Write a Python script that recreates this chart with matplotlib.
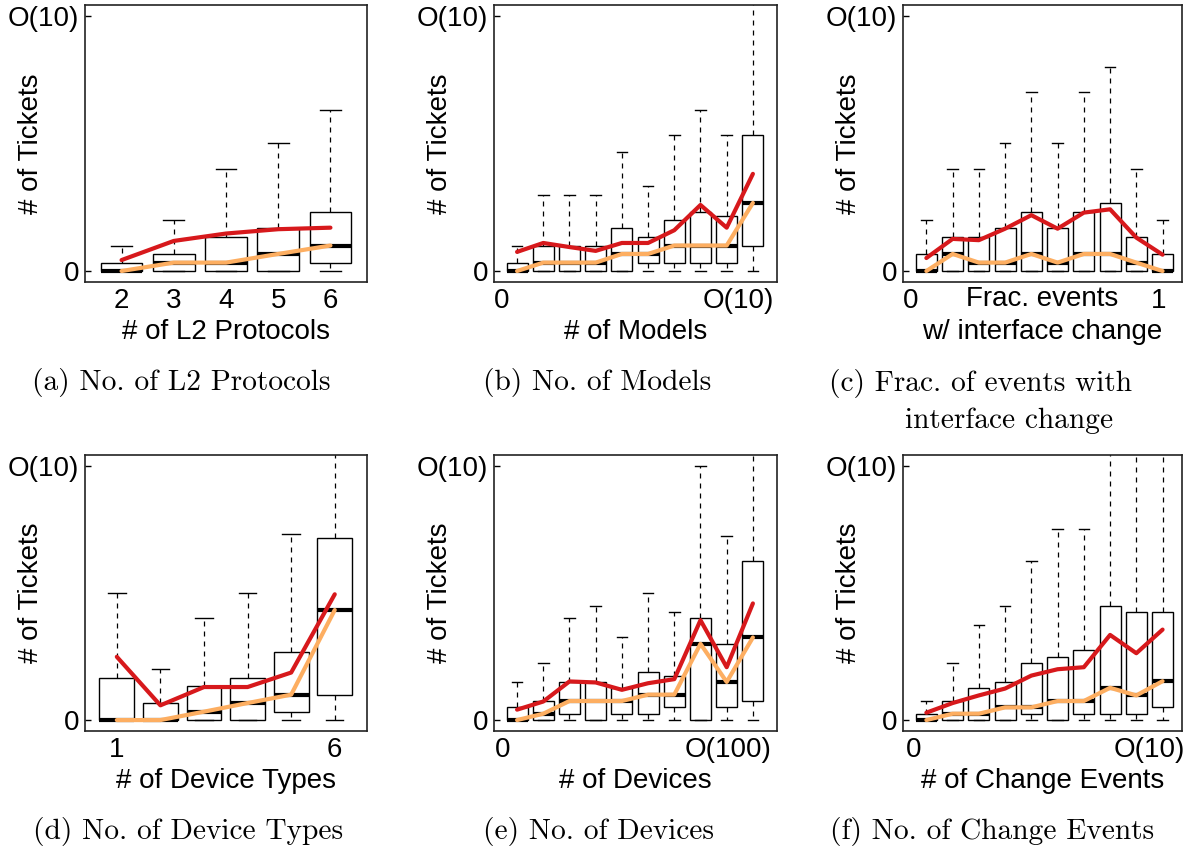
import matplotlib
matplotlib.use("Agg")
import matplotlib.pyplot as plt

# ---- data (y in "ticket" units: 0 .. O(10) -> 0 .. 10) ----
# (a) No. of L2 Protocols
l2_pos = [2, 3, 4, 5, 6]
l2_q1 = [0, 0, 0, 0, 0.33]
l2_med = [0, 0.33, 0.33, 0.67, 1.0]
l2_q3 = [0.33, 0.67, 1.33, 1.67, 2.33]
l2_hi = [1, 2, 4, 5, 6.33]
l2_mean = [0.43, 1.18, 1.47, 1.64, 1.70]

# (b) No. of Models
mod_pos = list(range(1, 11))
mod_q1 = [0, 0, 0, 0, 0, 0.33, 0.33, 0.33, 0.33, 1.0]
mod_med = [0, 0.33, 0.33, 0.33, 0.67, 0.67, 1.0, 1.0, 1.0, 2.67]
mod_q3 = [0.33, 1.0, 1.0, 1.0, 1.67, 1.33, 2.0, 2.33, 2.17, 5.33]
mod_hi = [1, 3, 3, 3, 4.67, 3.33, 5.33, 6.33, 5.33, 12]
mod_mean = [0.75, 1.10, 0.94, 0.79, 1.10, 1.10, 1.60, 2.59, 1.70, 3.81]

# (c) Frac. of events with interface change
frac_pos = list(range(1, 11))
frac_q1 = [0] * 10
frac_med = [0, 0.67, 0.33, 0.33, 0.67, 0.33, 0.67, 0.67, 0.33, 0]
frac_q3 = [0.67, 1.33, 1.33, 1.67, 2.33, 1.67, 2.33, 2.67, 1.33, 0.67]
frac_hi = [2, 4, 4, 5, 7, 5, 7, 8, 4, 2]
frac_mean = [0.51, 1.26, 1.21, 1.66, 2.19, 1.66, 2.29, 2.42, 1.31, 0.64]

# (d) No. of Device Types
dtype_pos = [1, 2, 3, 4, 5, 6]
dtype_q1 = [0, 0, 0, 0, 0.33, 1.0]
dtype_med = [0, 0, 0.33, 0.67, 1.0, 4.33]
dtype_q3 = [1.67, 0.67, 1.33, 1.67, 2.67, 7.17]
dtype_hi = [5, 2, 4, 5, 7.33, 12]
dtype_mean = [2.49, 0.58, 1.30, 1.30, 1.87, 4.95]

# (e) No. of Devices
dev_pos = list(range(1, 11))
dev_q1 = [0, 0, 0.25, 0, 0.25, 0.25, 0.5, 0, 0.5, 0.75]
dev_med = [0, 0.25, 0.75, 0.75, 0.75, 1.0, 1.0, 3.0, 1.5, 3.25]
dev_q3 = [0.5, 0.75, 1.5, 1.5, 1.25, 1.9, 1.75, 4.0, 3.0, 6.25]
dev_hi = [1.5, 2.25, 4.0, 4.5, 3.25, 5.0, 4.25, 10.0, 7.25, 12]
dev_mean = [0.41, 0.73, 1.52, 1.48, 1.19, 1.45, 1.61, 3.93, 2.08, 4.59]

# (f) No. of Change Events
chg_pos = list(range(1, 11))
chg_q1 = [0, 0, 0, 0, 0.25, 0, 0.25, 0.25, 0.25, 0.5]
chg_med = [0, 0.25, 0.25, 0.5, 0.5, 0.75, 0.75, 1.27, 0.97, 1.53]
chg_q3 = [0.25, 0.75, 1.25, 1.5, 2.25, 2.5, 2.75, 4.5, 4.25, 4.25]
chg_hi = [0.75, 2.25, 3.75, 4.5, 6.25, 7.5, 7.5, 12, 12, 12]
chg_mean = [0.29, 0.67, 0.97, 1.24, 1.75, 2.0, 2.08, 3.35, 2.63, 3.56]

y_ticks = [0, 10]
y_ticklabels = ["0", "O(10)"]

RED = "#d7191c"
ORANGE = "#fdae61"
SANS = "Liberation Sans"
SERIF = "cmr10"
FS = 20
CAP_FS = 21.2

W, H = 1188, 851
fig = plt.figure(figsize=(W / 100, H / 100), dpi=100)


def px_axes(left, top, right, bottom):
    return fig.add_axes([left / W, 1 - bottom / H, (right - left) / W, (bottom - top) / H])


def panel(rect, pos, q1, med, q3, hi, mean, xlim, xticks, xticklabels, xlabel):
    ax = px_axes(*rect)
    stats = []
    for i in range(len(pos)):
        stats.append(dict(q1=q1[i], med=med[i], q3=q3[i], whislo=0, whishi=hi[i], fliers=[]))
    ax.bxp(stats, positions=pos, widths=0.8, showfliers=False, patch_artist=True,
           boxprops=dict(facecolor="white", edgecolor="black", linewidth=1.0),
           medianprops=dict(color="black", linewidth=3.0, solid_capstyle="butt"),
           whiskerprops=dict(color="black", linewidth=0.9, linestyle=(0, (4, 4))),
           capprops=dict(color="black", linewidth=1.0))
    ax.plot(pos, med, color=ORANGE, lw=3, solid_capstyle="round", zorder=4)
    ax.plot(pos, mean, color=RED, lw=3, solid_capstyle="round", zorder=5)

    ax.set_xlim(*xlim)
    ax.set_ylim(-0.43, 10.43)
    ax.set_yticks(y_ticks)
    ax.set_yticklabels(y_ticklabels, fontsize=FS, fontfamily=SANS)
    ax.set_xticks(xticks)
    ax.set_xticklabels(xticklabels, fontsize=FS, fontfamily=SANS)
    ax.tick_params(axis="y", direction="in", length=4, width=1, pad=4)
    ax.tick_params(axis="x", length=0, pad=4)
    for s in ax.spines.values():
        s.set_linewidth(1.2)
        s.set_color("#222222")

    width_px = rect[2] - rect[0]
    ax.set_ylabel("# of Tickets", fontsize=FS, fontfamily=SANS)
    ax.yaxis.set_label_coords(-54 / width_px, 0.5)
    ax.yaxis.label.set_verticalalignment("center")
    ax.set_xlabel(xlabel, fontsize=FS, fontfamily=SANS)
    ax.xaxis.set_label_coords(0.5, -0.18)
    ax.xaxis.label.set_verticalalignment("center")
    return ax


panel((85, 5, 367, 282), l2_pos, l2_q1, l2_med, l2_q3, l2_hi, l2_mean,
      (1.3, 6.7), l2_pos, [str(p) for p in l2_pos], "# of L2 Protocols")
panel((494, 5, 777, 282), mod_pos, mod_q1, mod_med, mod_q3, mod_hi, mod_mean,
      (0.12, 10.92), [0.42, 9.44], ["0", "O(10)"], "# of Models")
ax_c = panel((903, 5, 1182, 282), frac_pos, frac_q1, frac_med, frac_q3, frac_hi, frac_mean,
             (0.11, 10.74), [0.4, 9.84], ["0", "1"], "w/ interface change")
# first line of the (c) axis label sits in the tick-label row
ax_c.text(0.5, -0.062, "Frac. events", transform=ax_c.transAxes, fontsize=FS,
          fontfamily=SANS, ha="center", va="center")
panel((85, 455, 367, 731), dtype_pos, dtype_q1, dtype_med, dtype_q3, dtype_hi, dtype_mean,
      (0.27, 6.74), [1, 6], ["1", "6"], "# of Device Types")
panel((494, 455, 777, 731), dev_pos, dev_q1, dev_med, dev_q3, dev_hi, dev_mean,
      (0.12, 10.92), [0.46, 9.07], ["0", "O(100)"], "# of Devices")
panel((903, 455, 1182, 731), chg_pos, chg_q1, chg_med, chg_q3, chg_hi, chg_mean,
      (0.11, 10.74), [0.52, 9.48], ["0", "O(10)"], "# of Change Events")

# sub-figure captions
captions = [
    (32, 382, "(a) No. of L2 Protocols"),
    (483, 382, "(b) No. of Models"),
    (829, 384, "(c) Frac. of events with"),
    (905, 421, "interface change"),
    (33, 831, "(d) No. of Device Types"),
    (483, 831, "(e) No. of Devices"),
    (830, 831, "(f) No. of Change Events"),
]
for x, y, txt in captions:
    fig.text(x / W, 1 - y / H, txt, fontsize=CAP_FS, fontfamily=SERIF, ha="left", va="center")

fig.savefig("out.png", dpi=100)
